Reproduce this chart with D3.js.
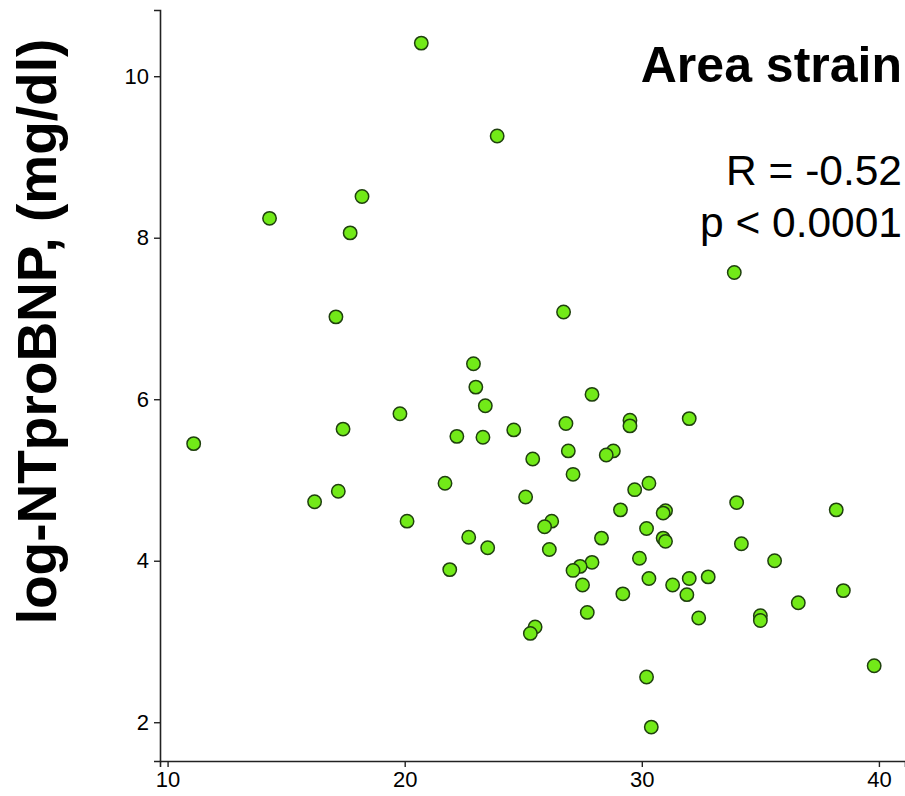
<!DOCTYPE html>
<html>
<head>
<meta charset="utf-8">
<script src="https://cdn.jsdelivr.net/npm/d3@7"></script>
<style>
  html, body { margin: 0; padding: 0; background: #fff; }
  svg { display: block; }
  text { font-family: "Liberation Sans", Arial, Helvetica, sans-serif; fill: #000; }
  .axis text { font-size: 22px; }
</style>
</head>
<body>
<svg id="chart" width="905" height="796"></svg>
<script>
// Area strain (x) against log-NTproBNP (y), one point per patient
const strain = [
  11.1, 14.3, 20.7, 23.9, 18.2, 17.7, 17.1, 17.4, 16.2, 17.2,
  19.8, 20.1, 21.7, 21.9, 22.2, 22.7, 22.9, 23.0, 23.4, 23.3,
  23.5, 24.6, 26.7, 27.9, 26.8, 29.5, 29.5, 32.0, 25.4, 26.9,
  28.8, 28.5, 27.1, 25.1, 30.3, 29.7, 34.0, 38.2, 29.1, 31.0,
  30.9, 26.2, 25.9, 30.2, 30.9, 31.0, 28.3, 34.2, 26.1, 29.9,
  35.6, 27.9, 27.4, 27.1, 27.5, 30.3, 32.0, 32.8, 31.3, 38.5,
  29.2, 31.9, 36.6, 27.7, 32.4, 35.0, 35.0, 25.5, 25.3, 30.2,
  30.4, 39.8, 33.9
];
const logNTproBNP = [
  5.45, 8.24, 10.41, 9.26, 8.51, 8.06, 7.02, 5.63, 4.73, 4.86,
  5.82, 4.49, 4.96, 3.89, 5.54, 4.29, 6.44, 6.15, 5.92, 5.53,
  4.16, 5.62, 7.08, 6.06, 5.70, 5.74, 5.67, 5.76, 5.26, 5.36,
  5.36, 5.31, 5.07, 4.79, 4.96, 4.88, 4.72, 4.63, 4.63, 4.62,
  4.59, 4.49, 4.42, 4.40, 4.28, 4.24, 4.28, 4.21, 4.14, 4.03,
  4.00, 3.98, 3.93, 3.88, 3.70, 3.78, 3.78, 3.80, 3.70, 3.63,
  3.59, 3.58, 3.48, 3.36, 3.29, 3.32, 3.26, 3.18, 3.10, 2.56,
  1.94, 2.70, 7.57
];
const xTicks = [10, 20, 30, 40];
const yTicks = [2, 4, 6, 8, 10];
const yLabel = "log-NTproBNP, (mg/dl)";
const title = "Area strain";
const statLines = ["R = -0.52", "p < 0.0001"];

const svg = d3.select("#chart");
const plotLeft = 160, plotRight = 905, plotTop = 10, plotBottom = 761;

const x = d3.scaleLinear().domain([9.68, 41.1]).range([plotLeft, plotRight]);
const y = d3.scaleLinear().domain([1.52, 10.82]).range([plotBottom, plotTop]);

// axes
const xAxis = svg.append("g")
  .attr("class", "axis")
  .attr("transform", `translate(0,${plotBottom})`)
  .call(d3.axisBottom(x).tickValues(xTicks).tickSize(6).tickPadding(4).tickFormat(d3.format("d")));
const yAxis = svg.append("g")
  .attr("class", "axis")
  .attr("transform", `translate(${plotLeft},0)`)
  .call(d3.axisLeft(y).tickValues(yTicks).tickSize(6).tickPadding(5).tickFormat(d3.format("d")));

[xAxis, yAxis].forEach(g => {
  g.attr("font-size", 22).attr("font-family", "Liberation Sans, Arial, sans-serif");
  g.select(".domain").attr("stroke", "#222").attr("stroke-width", 1.6);
  g.selectAll(".tick line").attr("stroke", "#222").attr("stroke-width", 1.4);
  g.selectAll(".tick text").attr("fill", "#111");
});

// points
const pts = strain.map((v, i) => ({ x: v, y: logNTproBNP[i] }));
svg.append("g").selectAll("circle")
  .data(pts)
  .join("circle")
  .attr("cx", d => x(d.x))
  .attr("cy", d => y(d.y))
  .attr("r", 6.7)
  .attr("fill", "#72ea18")
  .attr("stroke", "#1f400e")
  .attr("stroke-width", 1.5);

// y axis title
svg.append("text")
  .attr("transform", `translate(56,${(38 + 625) / 2}) rotate(-90)`)
  .attr("text-anchor", "middle")
  .style("font-size", "55px")
  .attr("font-weight", "bold")
  .text(yLabel);

// panel title and statistics
svg.append("text")
  .attr("x", 902).attr("y", 82)
  .attr("text-anchor", "end")
  .style("font-size", "50px")
  .attr("font-weight", "bold")
  .text(title);

svg.append("g").selectAll("text")
  .data(statLines)
  .join("text")
  .attr("x", 902)
  .attr("y", (d, i) => 185 + i * 52)
  .attr("text-anchor", "end")
  .style("font-size", "42.5px")
  .text(d => d);
</script>
</body>
</html>
